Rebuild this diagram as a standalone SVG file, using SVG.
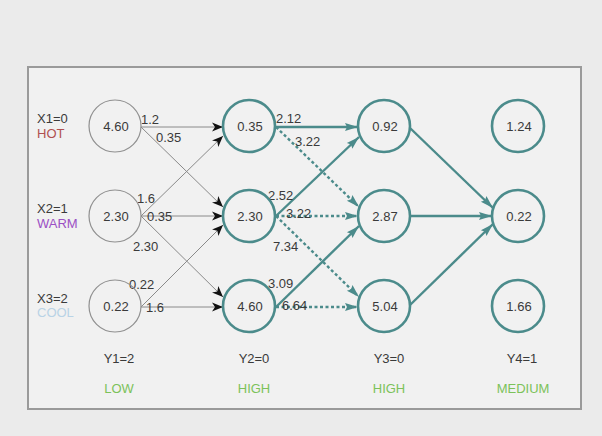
<svg xmlns="http://www.w3.org/2000/svg" width="602" height="436" viewBox="0 0 602 436">
<defs>
<marker id="ab" markerUnits="userSpaceOnUse" markerWidth="12" markerHeight="10" refX="11" refY="5" orient="auto"><path d="M0,0.5 L11,5 L0,9.5 L3,5 Z" fill="#111"/></marker>
<marker id="at" markerUnits="userSpaceOnUse" markerWidth="14" markerHeight="10" refX="13" refY="5" orient="auto"><path d="M0,1 L13,5 L0,9 L2,5 Z" fill="#4b8b8b"/></marker>
<style>
text{font-family:"Liberation Sans",Arial,sans-serif;font-size:13px;fill:#3a3a3a}
.c{text-anchor:middle}
.n1{fill:none;stroke:#909090;stroke-width:1.2}
.n2{fill:none;stroke:#4b8b8b;stroke-width:2.6}
.e1{stroke:#8a8a8a;stroke-width:1;fill:none;marker-end:url(#ab)}
.e2{stroke:#4b8b8b;stroke-width:2.4;fill:none;marker-end:url(#at)}
.d{stroke-dasharray:3 2.5}
</style>
</defs>
<rect x="0" y="0" width="602" height="436" fill="#ebebeb"/>
<rect x="28" y="67" width="553" height="342" fill="#f1f1f1" stroke="#9a9a9a" stroke-width="2"/>
<g id="connectors">
<line class="e1" x1="141" y1="127" x2="223" y2="127"/>
<line class="e1" x1="141" y1="127" x2="223" y2="207"/>
<line class="e1" x1="141" y1="216" x2="223" y2="136"/>
<line class="e1" x1="141" y1="216" x2="223" y2="216"/>
<line class="e1" x1="141" y1="216" x2="223" y2="297"/>
<line class="e1" x1="141" y1="307" x2="223" y2="225"/>
<line class="e1" x1="141" y1="307" x2="223" y2="307"/>
<line class="e2" x1="276" y1="127" x2="358" y2="127"/>
<line class="e2 d" x1="276" y1="127" x2="359" y2="207"/>
<line class="e2" x1="276" y1="216" x2="359" y2="137"/>
<line class="e2 d" x1="276" y1="216" x2="358" y2="216"/>
<line class="e2 d" x1="276" y1="216" x2="359" y2="297"/>
<line class="e2" x1="276" y1="307" x2="359" y2="226"/>
<line class="e2 d" x1="276" y1="307" x2="358" y2="307"/>
<line class="e2" x1="410" y1="128" x2="493" y2="208"/>
<line class="e2" x1="410" y1="216" x2="492" y2="216"/>
<line class="e2" x1="410" y1="305" x2="493" y2="224"/>
<text x="141" y="124">1.2</text>
<text x="156" y="142">0.35</text>
<text x="137" y="203">1.6</text>
<text x="147" y="221">0.35</text>
<text x="133" y="251">2.30</text>
<text x="129" y="289">0.22</text>
<text x="146" y="312">1.6</text>
<text x="276" y="123">2.12</text>
<text x="295" y="146">3.22</text>
<text x="268" y="200">2.52</text>
<text x="286" y="218">3.22</text>
<text x="273" y="251">7.34</text>
<text x="268" y="288">3.09</text>
<text x="282" y="310">6.64</text>
</g>
<g id="x1"><text x="37" y="123">X1=0</text><text x="37" y="138" style="fill:#b05050">HOT</text></g>
<g id="x2"><text x="37" y="213">X2=1</text><text x="37" y="228" style="fill:#9b4fc4">WARM</text></g>
<g id="x3"><text x="37" y="303">X3=2</text><text x="37" y="317" style="fill:#b9d3e6">COOL</text></g>
<g id="n11"><circle class="n1" cx="115" cy="126" r="26"/><text class="c" x="116" y="131">4.60</text></g>
<g id="n12"><circle class="n1" cx="115" cy="216" r="26"/><text class="c" x="116" y="221">2.30</text></g>
<g id="n13"><circle class="n1" cx="115" cy="306" r="26"/><text class="c" x="116" y="311">0.22</text></g>
<g id="n21"><circle class="n2" cx="249" cy="126" r="26"/><text class="c" x="250" y="131">0.35</text></g>
<g id="n22"><circle class="n2" cx="249" cy="216" r="26"/><text class="c" x="250" y="221">2.30</text></g>
<g id="n23"><circle class="n2" cx="249" cy="306" r="26"/><text class="c" x="250" y="311">4.60</text></g>
<g id="n31"><circle class="n2" cx="384" cy="126" r="26"/><text class="c" x="385" y="131">0.92</text></g>
<g id="n32"><circle class="n2" cx="384" cy="216" r="26"/><text class="c" x="385" y="221">2.87</text></g>
<g id="n33"><circle class="n2" cx="384" cy="306" r="26"/><text class="c" x="385" y="311">5.04</text></g>
<g id="n41"><circle class="n2" cx="518" cy="126" r="26"/><text class="c" x="519" y="131">1.24</text></g>
<g id="n42"><circle class="n2" cx="518" cy="216" r="26"/><text class="c" x="519" y="221">0.22</text></g>
<g id="n43"><circle class="n2" cx="518" cy="306" r="26"/><text class="c" x="519" y="311">1.66</text></g>
<g id="y1"><text class="c" x="119" y="363">Y1=2</text><text class="c" x="119" y="393" style="fill:#7cc25a">LOW</text></g>
<g id="y2"><text class="c" x="254" y="363">Y2=0</text><text class="c" x="254" y="393" style="fill:#7cc25a">HIGH</text></g>
<g id="y3"><text class="c" x="389" y="363">Y3=0</text><text class="c" x="389" y="393" style="fill:#7cc25a">HIGH</text></g>
<g id="y4"><text class="c" x="522" y="363">Y4=1</text><text class="c" x="523" y="393" style="fill:#7cc25a">MEDIUM</text></g>
</svg>
